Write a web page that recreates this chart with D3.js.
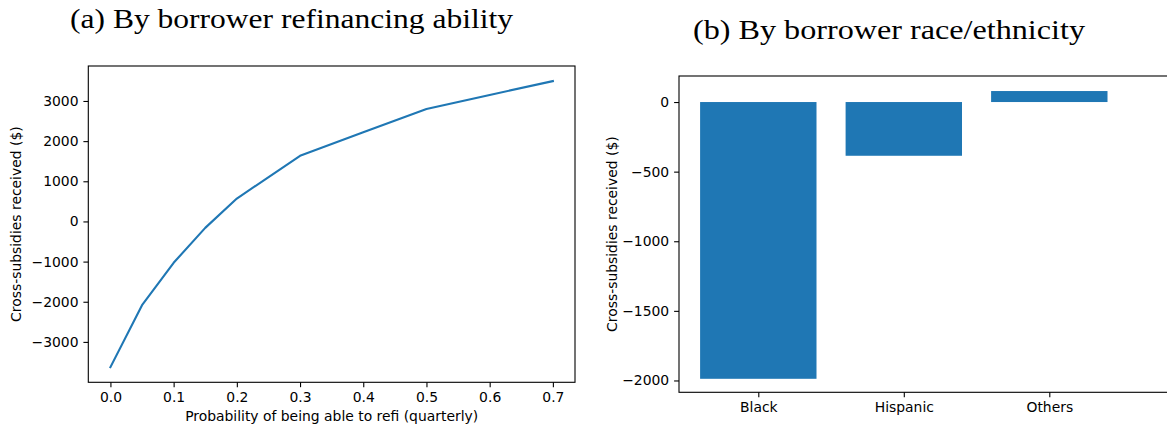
<!DOCTYPE html>
<html><head><meta charset="utf-8">
<script src="https://cdn.jsdelivr.net/npm/d3@7"></script>
<style>body{margin:0;background:#fff}svg{display:block}</style>
</head><body>
<script>
// Panel (a) data
const refiProb = [0, 0.05, 0.1, 0.15, 0.2, 0.3, 0.4, 0.5, 0.6, 0.7];
const subsidyByRefi = [-3630, -2085, -1030, -160, 570, 1635, 2220, 2800, 3150, 3495];
const xTicksA = [0, 0.1, 0.2, 0.3, 0.4, 0.5, 0.6, 0.7];
const yTicksA = [-3000, -2000, -1000, 0, 1000, 2000, 3000];
// Panel (b) data
const raceCats = ["Black", "Hispanic", "Others"];
const subsidyByRace = [-1988, -386, 79];
const yTicksB = [-2000, -1500, -1000, -500, 0];

const W = 1167, H = 433;
const svg = d3.select("body").append("svg").attr("width", W).attr("height", H);
const fmtMinus = s => s.replace(/-/g, "\u2212");
const tickFont = "'DejaVu Sans', sans-serif";
const blue = "#1f77b4";

function styleAxis(g) {
  g.selectAll("path").remove();
  g.selectAll("line").attr("stroke", "#000").attr("stroke-width", 1.1);
  g.selectAll("text").attr("font-family", tickFont).attr("font-size", 13.9).attr("fill", "#000");
}

// ---------- Panel (a) ----------
const A = {l: 88.3, r: 575, t: 66, b: 382.3};
const xA = d3.scaleLinear().domain([-0.035, 0.735]).range([A.l, A.r]);
const yA = d3.scaleLinear().domain([-4006, 3871]).range([A.b, A.t]);

svg.append("g").attr("transform", `translate(0,${A.b})`)
  .call(d3.axisBottom(xA).tickValues(xTicksA).tickFormat(d3.format(".1f")).tickSizeOuter(0).tickSize(4.9).tickPadding(4.9))
  .call(styleAxis);
svg.append("g").attr("transform", `translate(${A.l},0)`)
  .call(d3.axisLeft(yA).tickValues(yTicksA).tickFormat(d => fmtMinus(String(d))).tickSizeOuter(0).tickSize(4.9).tickPadding(4.9))
  .call(styleAxis);

svg.append("path")
  .datum(refiProb.map((x, i) => [x, subsidyByRefi[i]]))
  .attr("fill", "none").attr("stroke", blue).attr("stroke-width", 2.1)
  .attr("stroke-linejoin", "round").attr("stroke-linecap", "square")
  .attr("d", d3.line().x(d => xA(d[0])).y(d => yA(d[1])));

svg.append("rect").attr("x", A.l).attr("y", A.t).attr("width", A.r - A.l).attr("height", A.b - A.t)
  .attr("fill", "none").attr("stroke", "#000").attr("stroke-width", 1.1);

svg.append("text").attr("x", (A.l + A.r) / 2).attr("y", 421)
  .attr("text-anchor", "middle").attr("font-family", tickFont).attr("font-size", 13.9)
  .text("Probability of being able to refi (quarterly)");
svg.append("text").attr("transform", `translate(21,${(A.t + A.b) / 2}) rotate(-90)`)
  .attr("text-anchor", "middle").attr("font-family", tickFont).attr("font-size", 13.9)
  .text("Cross-subsidies received ($)");

svg.append("text").attr("x", 70).attr("y", 28)
  .attr("font-family", "'Liberation Serif', 'DejaVu Serif', serif").attr("font-size", 27)
  .attr("textLength", 443).attr("lengthAdjust", "spacingAndGlyphs")
  .text("(a) By borrower refinancing ability");

// ---------- Panel (b) ----------
const B = {l: 679, r: 1185, t: 76, b: 392.3};
const xB = d3.scaleLinear().domain([0, 2]).range([758.3, 1049.3]);
const bandW = (xB(1) - xB(0)) * 0.8;
const yB = d3.scaleLinear().domain([-2085, 187]).range([B.b, B.t]);

svg.append("g").attr("transform", `translate(0,${B.b})`)
  .call(d3.axisBottom(xB).tickValues([0, 1, 2]).tickFormat(i => raceCats[i]).tickSizeOuter(0).tickSize(4.9).tickPadding(4.9))
  .call(styleAxis);
svg.append("g").attr("transform", `translate(${B.l},0)`)
  .call(d3.axisLeft(yB).tickValues(yTicksB).tickFormat(d => fmtMinus(String(d))).tickSizeOuter(0).tickSize(4.9).tickPadding(4.9))
  .call(styleAxis);

svg.selectAll("rect.bar").data(subsidyByRace).enter().append("rect").attr("class", "bar")
  .attr("x", (d, i) => xB(i) - bandW / 2)
  .attr("width", bandW)
  .attr("y", d => yB(Math.max(0, d)))
  .attr("height", d => Math.abs(yB(d) - yB(0)))
  .attr("fill", blue);

svg.append("rect").attr("x", B.l).attr("y", B.t).attr("width", B.r - B.l).attr("height", B.b - B.t)
  .attr("fill", "none").attr("stroke", "#000").attr("stroke-width", 1.1);

svg.append("text").attr("transform", `translate(617,${(B.t + B.b) / 2}) rotate(-90)`)
  .attr("text-anchor", "middle").attr("font-family", tickFont).attr("font-size", 13.9)
  .text("Cross-subsidies received ($)");

svg.append("text").attr("x", 693).attr("y", 39)
  .attr("font-family", "'Liberation Serif', 'DejaVu Serif', serif").attr("font-size", 27)
  .attr("textLength", 392).attr("lengthAdjust", "spacingAndGlyphs")
  .text("(b) By borrower race/ethnicity");
</script>
</body></html>
